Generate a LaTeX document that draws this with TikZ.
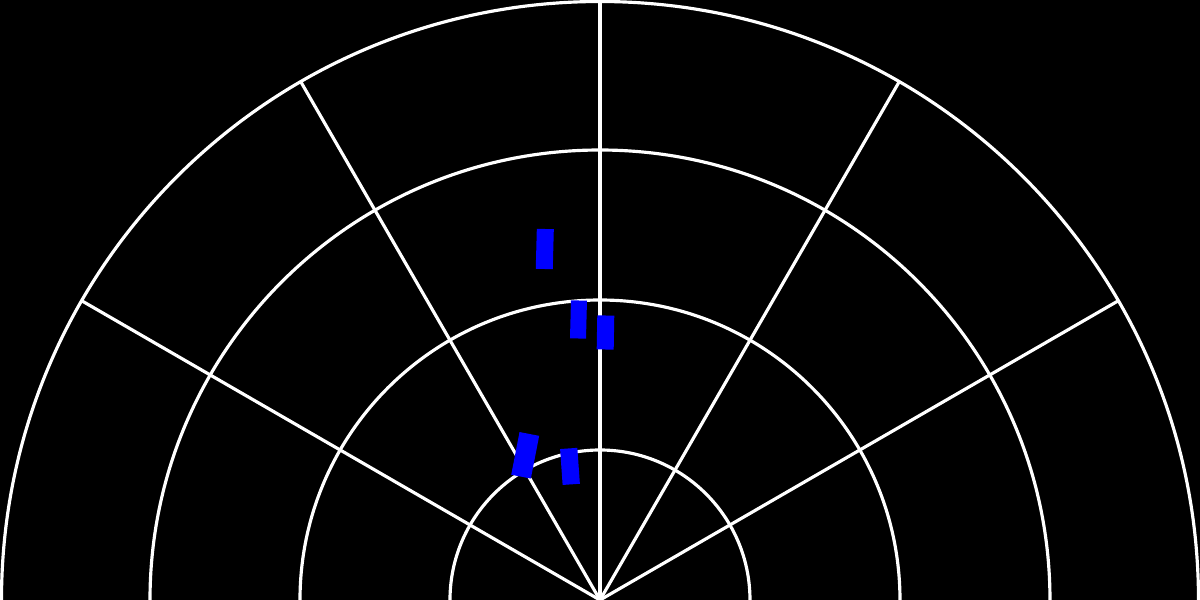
\documentclass[tikz,border=0pt]{standalone}
\begin{document}
\begin{tikzpicture}
    \fill[black] (-6,0) rectangle (6,6);%
    \useasboundingbox (-6,0) rectangle (6,6);%
    \coordinate (O) at (0,0);%
    \coordinate (R30) at (30:5.985);%
    \coordinate (R60) at (60:5.985);%
    \coordinate (R90) at (90:5.985);%
    \coordinate (R120) at (120:5.985);%
    \coordinate (R150) at (150:5.985);%

    \draw[white,line width=0.9pt] (1.5,0) arc (0:180:1.5);%
    \draw[white,line width=0.9pt] (3,0) arc (0:180:3);%
    \draw[white,line width=0.9pt] (4.5,0) arc (0:180:4.5);%
    \draw[white,line width=0.9pt] (5.985,0) arc (0:180:5.985);%
    \draw[white,line width=0.9pt] (O) to (R30);%
    \draw[white,line width=0.9pt] (O) to (R60);%
    \draw[white,line width=0.9pt] (O) to (R90);%
    \draw[white,line width=0.9pt] (O) to (R120);%
    \draw[white,line width=0.9pt] (O) to (R150);%

    \node[fill=blue,inner sep=0pt,minimum width=0.17cm,minimum height=0.40cm,rotate=-1.5] (B1) at (-0.552,3.51) {};%
    \node[fill=blue,inner sep=0pt,minimum width=0.16cm,minimum height=0.38cm,rotate=-1.5] (B2) at (-0.215,2.805) {};%
    \node[fill=blue,inner sep=0pt,minimum width=0.17cm,minimum height=0.34cm,rotate=-1] (B3) at (0.055,2.675) {};%
    \node[fill=blue,inner sep=0pt,minimum width=0.20cm,minimum height=0.435cm,rotate=-11] (B4) at (-0.748,1.447) {};%
    \node[fill=blue,inner sep=0pt,minimum width=0.173cm,minimum height=0.36cm,rotate=4] (B5) at (-0.30,1.336) {};%
  \end{tikzpicture}
\end{document}
